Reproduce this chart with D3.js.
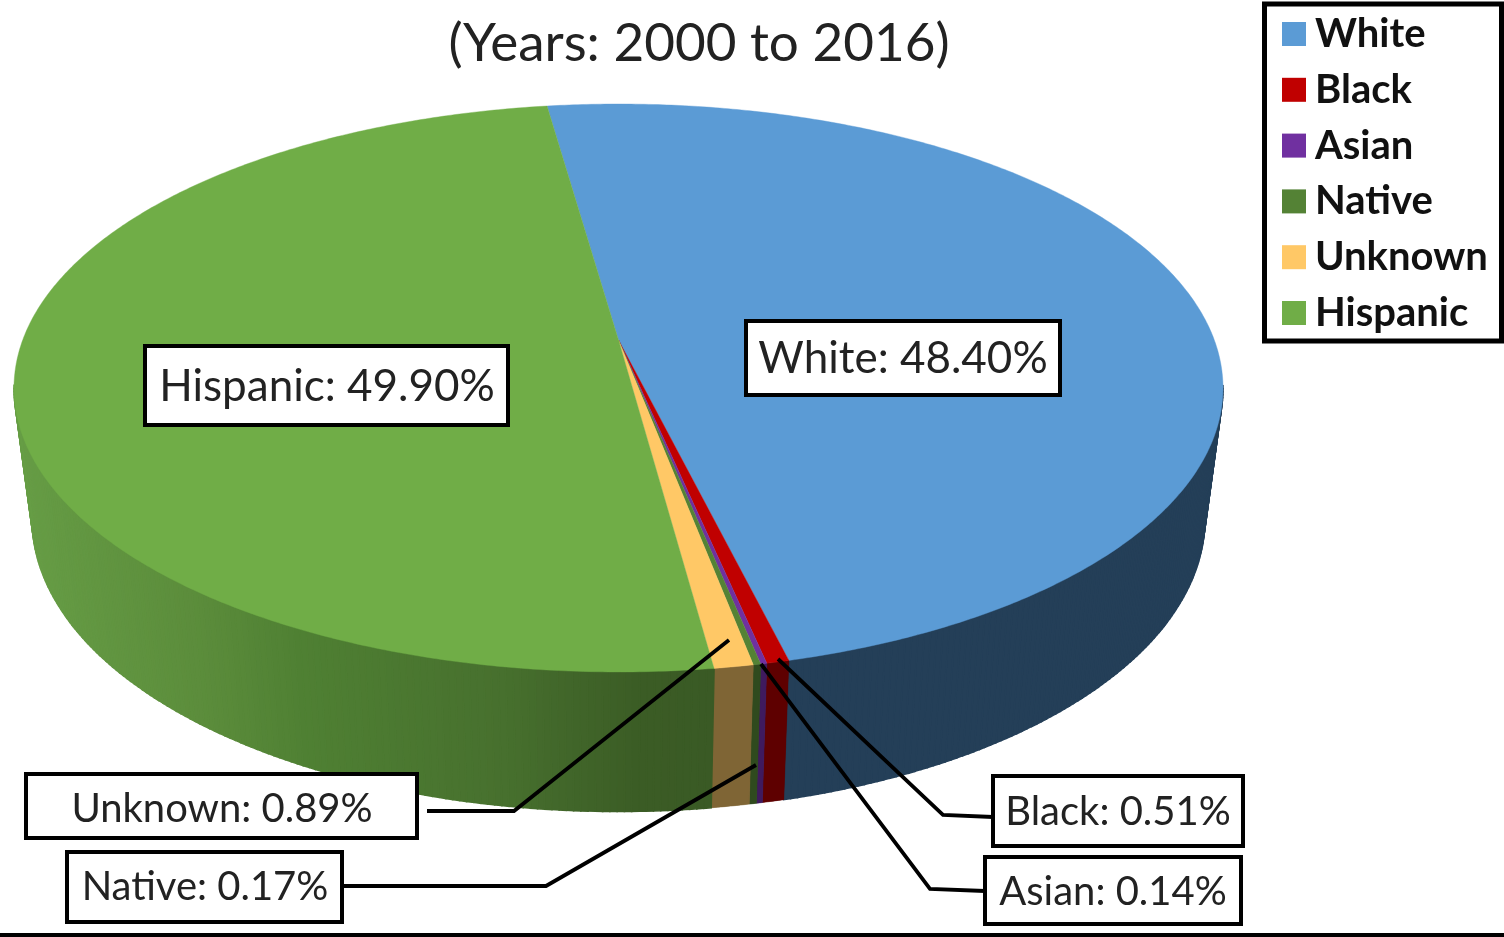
<!DOCTYPE html>
<html><head><meta charset="utf-8"><style>
html,body{margin:0;padding:0;background:#fff}
svg{display:block;filter:blur(0.6px)}
text{font-family:Lato,"Open Sans",sans-serif;fill:#222}
</style>
<script src="https://cdn.jsdelivr.net/npm/d3@7"></script></head><body>
<svg id="c" width="1504" height="937"></svg>
<script>
const categories=["White","Black","Asian","Native","Unknown","Hispanic"];
const shares=[48.40,0.51,0.14,0.17,0.89,49.90];
const shareLabels=["48.40%","0.51%","0.14%","0.17%","0.89%","49.90%"];
const colors=["#5b9bd5","#c00000","#7030a0","#548235","#ffc866","#70ad47"];
const sideColors=["#243f58","#5e0000","#3f1a5e","#2f4a1e","#7f6535",null];
const titleText="(Years: 2000 to 2016)";

const svg=d3.select("#c");
const deg=Math.PI/180;
// Perspective projection of the tilted disc
const k=-0.169,R=595.8,x0=618.5,apexY=340;
function topPt(a){const u=Math.sin(a),v=-Math.cos(a),w=1+k*v;
  return [x0+R*u/w,(apexY+218.4*v)/w];}
const sx=0.97,sy=1.03,cyT=388,cyB=519;
function botPt(a){const p=topPt(a);return [x0+(p[0]-x0)*sx,cyB+(p[1]-cyT)*sy];}
const pie=d3.pie().sort(null).value(d=>d).startAngle(-8.05*deg).endAngle(351.95*deg);
const arcs=pie(shares);
const line=d3.line();

// side wall shade of the Hispanic slice, as function of horizontal position
const greenShade=d3.scaleLinear().domain([20,200,300,500,640,720]).range(["#669c45","#5b8c3b","#4f8033","#47702e","#3b5c25","#3a5a25"]);
const frontFacing=a=>topPt(a)[1]>=cyT-5;

const side=svg.append("g");
arcs.forEach((d,i)=>{
  const n=Math.max(2,Math.ceil((d.endAngle-d.startAngle)/(0.6*deg)));
  const as=d3.range(n+1).map(j=>d.startAngle+(d.endAngle-d.startAngle)*j/n).filter(frontFacing);
  d3.pairs(as).forEach(([a,b])=>{
    const pa=topPt(a),pb=topPt(b),qa=botPt(a),qb=botPt(b);
    const col=sideColors[i]||greenShade((pa[0]+pb[0])/2);
    side.append("path").attr("d",line([pa,pb,qb,qa])+"Z").attr("fill",col).attr("stroke",col)
      .attr("stroke-width",(i===0||i===5)?1.6:0);
  });
  if(i>0&&i<5){
    const pts=[...as.map(topPt),...as.slice().reverse().map(botPt)];
    side.append("path").attr("d",line(pts)+"Z").attr("fill",sideColors[i]).attr("stroke",sideColors[i]).attr("stroke-width",.5);
  }
});
const topG=svg.append("g");
arcs.forEach((d,i)=>{
  const n=Math.max(2,Math.ceil((d.endAngle-d.startAngle)/(0.5*deg)));
  const pts=d3.range(n+1).map(j=>topPt(d.startAngle+(d.endAngle-d.startAngle)*j/n));
  topG.append("path").attr("d",line([[x0,apexY],...pts])+"Z")
    .attr("fill",colors[i]).attr("stroke",colors[i]).attr("stroke-width",.4);
});

// Title
svg.append("text").attr("x",699).attr("y",61).attr("text-anchor","middle").attr("font-size",53).text(titleText);

// Leader lines
const leaders=[
 {i:1,pts:[[778,659],[943,815],[993,817]]},
 {i:2,pts:[[761,664],[930,889],[985,891]]},
 {i:3,pts:[[756,765],[546,886],[342,886]]},
 {i:4,pts:[[729,640],[514,811],[427,811]]}];
leaders.forEach(l=>svg.append("path").attr("d",line(l.pts)).attr("fill","none").attr("stroke","#000").attr("stroke-width",3.8));

// Data label boxes
const boxes=[
 {i:0,x:746,y:321,w:314,h:74,tx:903,ty:373,fs:44},
 {i:5,x:145,y:346,w:363,h:79,tx:327,ty:401,fs:44},
 {i:4,x:26,y:774,w:391,h:64,tx:222,ty:822,fs:40},
 {i:3,x:67,y:852,w:275,h:70,tx:205,ty:900,fs:40},
 {i:1,x:993,y:776,w:250,h:70,tx:1118,ty:825,fs:40},
 {i:2,x:985,y:857,w:256,h:67,tx:1113,ty:905,fs:40}];
boxes.forEach(b=>{
  svg.append("rect").attr("x",b.x).attr("y",b.y).attr("width",b.w).attr("height",b.h).attr("fill","#fff").attr("stroke","#000").attr("stroke-width",4);
  svg.append("text").attr("x",b.tx).attr("y",b.ty).attr("text-anchor","middle").attr("font-size",b.fs)
    .text(categories[b.i]+": "+shareLabels[b.i]);
});

// Legend
svg.append("rect").attr("x",1264.5).attr("y",4).attr("width",237).attr("height",337).attr("fill","#fff").attr("stroke","#000").attr("stroke-width",5);
const ly=d3.scalePoint().domain(categories).range([33,312]);
categories.forEach((c,i)=>{
  svg.append("rect").attr("x",1282).attr("y",ly(c)-11).attr("width",24).attr("height",24).attr("fill",colors[i]);
  svg.append("text").attr("x",1315).attr("y",ly(c)+14).attr("font-size",40).attr("font-weight",700).style("fill","#111").text(c);
});

// Bottom border
svg.append("rect").attr("x",0).attr("y",933).attr("width",1504).attr("height",4).attr("fill","#000");
</script></body></html>
